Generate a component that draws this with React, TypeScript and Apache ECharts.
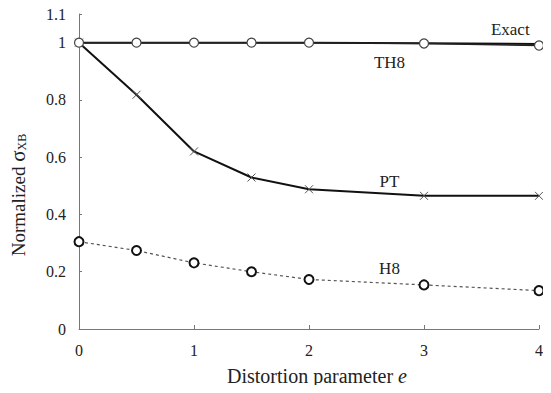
import React, { useEffect, useRef } from "react";
import * as echarts from "echarts";

// Distortion parameter e
const eValues = [0, 0.5, 1, 1.5, 2, 3, 4];
// Normalized sigma_XB for each formulation
const exactValues = [1, 1, 1, 1, 1, 0.998, 0.995];
const th8Values = [1, 1, 1, 1, 1, 0.997, 0.99];
const ptValues = [1, 0.818, 0.62, 0.529, 0.488, 0.465, 0.465];
const h8Values = [0.305, 0.274, 0.231, 0.2, 0.173, 0.154, 0.134];

// Curve labels placed in data coordinates [e, value]
const curveLabels: { text: string; at: [number, number] }[] = [
  { text: "Exact", at: [3.75, 1.045] },
  { text: "TH8", at: [2.7, 0.93] },
  { text: "PT", at: [2.7, 0.515] },
  { text: "H8", at: [2.7, 0.21] },
];

const FONT = "Times New Roman";
const CROSS = "path://M0,0L10,10M10,0L0,10";

const pairs = (ys: number[]) => eValues.map((x, i) => [x, ys[i]]);

export default function App() {
  const ref = useRef<HTMLDivElement>(null);

  useEffect(() => {
    if (!ref.current) return;
    const chart = echarts.init(ref.current, undefined, { renderer: "svg" });

    const labelPoints = curveLabels.map((l) => ({
      coord: l.at,
      symbolSize: 0,
      label: {
        show: true,
        formatter: l.text,
        position: "inside" as const,
        color: "#222",
        fontFamily: FONT,
        fontWeight: "normal" as const,
        fontSize: 17,
      },
    }));

    chart.setOption({
      animation: false,
      backgroundColor: "#fff",
      textStyle: { fontFamily: FONT },
      grid: { left: 79, right: 12, top: 14, bottom: 64, containLabel: false },
      xAxis: {
        type: "value",
        min: 0,
        max: 4,
        interval: 1,
        axisLine: { show: true, lineStyle: { color: "#777", width: 1 } },
        axisTick: { show: true, inside: true, length: 4, lineStyle: { color: "#777" } },
        splitLine: { show: false },
        axisLabel: { color: "#222", fontFamily: FONT, fontSize: 16, margin: 13 },
      },
      yAxis: {
        type: "value",
        min: 0,
        max: 1.1,
        interval: 0.2,
        axisLine: { show: true, onZero: false, lineStyle: { color: "#777", width: 1 } },
        axisTick: { show: true, inside: true, length: 3, lineStyle: { color: "#777" } },
        splitLine: { show: false },
        axisLabel: { color: "#222", fontFamily: FONT, fontSize: 16, margin: 13 },
      },
      graphic: [
        {
          type: "text",
          x: 18,
          y: 195,
          rotation: Math.PI / 2,
          style: {
            text: "Normalized {s|σ}{sub|XB}",
            align: "center",
            verticalAlign: "middle",
            fill: "#222",
            fontFamily: FONT,
            fontSize: 19,
            rich: {
              s: { fontFamily: FONT, fontSize: 21, fill: "#222" },
              sub: { fontFamily: FONT, fontSize: 12, fill: "#222", padding: [8, 0, 0, 0] },
            },
          },
        },
        {
          type: "text",
          x: 317,
          y: 376,
          style: {
            text: "Distortion parameter {i|e}",
            align: "center",
            verticalAlign: "middle",
            fill: "#222",
            fontFamily: FONT,
            fontSize: 20,
            rich: {
              i: { fontFamily: FONT, fontSize: 20, fontStyle: "italic", fill: "#222" },
            },
          },
        },
      ],
      series: [
        {
          name: "H8",
          type: "line",
          data: pairs(h8Values),
          symbol: "circle",
          symbolSize: 9,
          itemStyle: { color: "#fff", borderColor: "#111", borderWidth: 2 },
          lineStyle: { color: "#555", width: 1.2, type: [3, 3] },
          z: 2,
        },
        {
          name: "PT",
          type: "line",
          data: pairs(ptValues),
          symbol: CROSS,
          symbolSize: 8,
          itemStyle: { color: "none", borderColor: "#555", borderWidth: 1 },
          lineStyle: { color: "#111", width: 2 },
          z: 3,
        },
        {
          name: "TH8",
          type: "line",
          data: pairs(th8Values),
          symbol: "circle",
          symbolSize: 9,
          itemStyle: { color: "#fff", borderColor: "#444", borderWidth: 1.2 },
          lineStyle: { color: "#222", width: 1.5 },
          z: 4,
        },
        {
          name: "Exact",
          type: "line",
          data: pairs(exactValues),
          showSymbol: false,
          symbol: "none",
          lineStyle: { color: "#111", width: 2 },
          z: 3,
          markPoint: { symbol: "circle", data: labelPoints, silent: true },
        },
      ],
    });

    return () => chart.dispose();
  }, []);

  return <div ref={ref} style={{ width: 551, height: 393, margin: -8 }} />;
}
